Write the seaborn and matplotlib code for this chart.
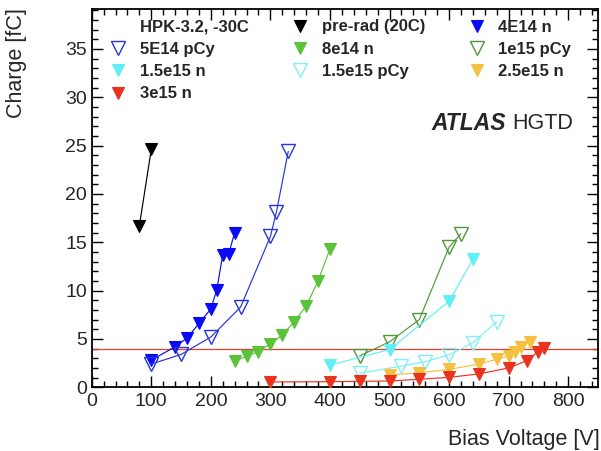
import matplotlib
matplotlib.use("Agg")
import matplotlib.pyplot as plt
import seaborn as sns
import pandas as pd
from matplotlib.lines import Line2D
from matplotlib.ticker import MultipleLocator

# ---------------- data ----------------
prerad_v = [80, 100]
prerad_q = [16.7, 24.6]

n4e14_v = [100, 140, 160, 180, 200, 210, 220, 230, 240]
n4e14_q = [2.8, 4.2, 5.1, 6.6, 8.1, 10.1, 13.7, 13.8, 16.0]

p5e14_v = [100, 150, 200, 250, 300, 310, 330]
p5e14_q = [2.4, 3.4, 5.2, 8.3, 15.6, 18.1, 24.4]

n8e14_v = [240, 260, 280, 300, 320, 340, 360, 380, 400]
n8e14_q = [2.7, 3.2, 3.7, 4.5, 5.4, 6.8, 8.4, 11.0, 14.3]

p1e15_v = [450, 500, 550, 600, 620]
p1e15_q = [3.25, 4.7, 7.0, 14.5, 15.9]

n15e15_v = [400, 500, 600, 640]
n15e15_q = [2.3, 3.9, 8.9, 13.25]

p15e15_v = [450, 520, 560, 600, 640, 680]
p15e15_q = [1.45, 2.2, 2.65, 3.35, 4.6, 6.8]

n25e15_v = [500, 550, 600, 650, 680, 700, 710, 720, 735]
n25e15_q = [1.27, 1.5, 1.85, 2.4, 2.9, 3.2, 3.7, 4.2, 4.7]

n3e15_v = [300, 400, 450, 500, 550, 600, 650, 700, 730, 750, 760]
n3e15_q = [0.55, 0.58, 0.62, 0.65, 0.83, 1.03, 1.38, 2.0, 2.75, 3.7, 4.1]

series_names = ["pre-rad (20C)", "4E14 n", "5E14 pCy", "8e14 n", "1e15 pCy",
                "1.5e15 n", "1.5e15 pCy", "2.5e15 n", "3e15 n"]
series_v = [prerad_v, n4e14_v, p5e14_v, n8e14_v, p1e15_v, n15e15_v, p15e15_v, n25e15_v, n3e15_v]
series_q = [prerad_q, n4e14_q, p5e14_q, n8e14_q, p1e15_q, n15e15_q, p15e15_q, n25e15_q, n3e15_q]

header_label = "HPK-3.2, -30C"
threshold = 4.0

# ---------------- styles ----------------
colors = {
    "pre-rad (20C)": "#000000",
    "4E14 n": "#0a0af5",
    "5E14 pCy": "#2536d8",
    "8e14 n": "#5cc23a",
    "1e15 pCy": "#4f983a",
    "1.5e15 n": "#62eef5",
    "1.5e15 pCy": "#7ef0f6",
    "2.5e15 n": "#f5c040",
    "3e15 n": "#e8331f",
}
filled = {
    "pre-rad (20C)": True, "4E14 n": True, "5E14 pCy": False, "8e14 n": True,
    "1e15 pCy": False, "1.5e15 n": True, "1.5e15 pCy": False, "2.5e15 n": True,
    "3e15 n": True,
}

rows = []
for name, vs, qs in zip(series_names, series_v, series_q):
    for v, q in zip(vs, qs):
        rows.append({"series": name, "V": v, "Q": q})
df = pd.DataFrame(rows)

sns.set_style("ticks")
plt.rcParams["font.family"] = ["Liberation Sans", "DejaVu Sans"]

fig = plt.figure(figsize=(6.01, 4.51), dpi=100)
ax = fig.add_axes([91.7 / 601, (451 - 387.3) / 451, (598 - 91.7) / 601, (387.3 - 9.3) / 451])

ms_f = 9.2
ms_o = 10.0
for name in series_names:
    sub = df[df["series"] == name]
    c = colors[name]
    if filled[name]:
        kw = dict(markerfacecolor=c, markeredgecolor=c, markersize=ms_f, markeredgewidth=0.8)
    else:
        kw = dict(markerfacecolor="none", markeredgecolor=c, markersize=ms_o, markeredgewidth=1.0)
    sns.lineplot(data=sub, x="V", y="Q", ax=ax, sort=False, estimator=None,
                 color=c, lw=0.85, marker="v", legend=False, zorder=3, **kw)

ax.axhline(threshold, color="#e8402f", lw=0.9, zorder=2)

ax.set_xlim(0, 850)
ax.set_ylim(0, 39.1)
ax.xaxis.set_major_locator(MultipleLocator(100))
ax.xaxis.set_minor_locator(MultipleLocator(20))
ax.yaxis.set_major_locator(MultipleLocator(5))
ax.yaxis.set_minor_locator(MultipleLocator(1))
ax.tick_params(which="both", direction="in", top=True, right=True, color="black", width=1.0)
ax.tick_params(which="major", length=8, labelsize=14)
ax.tick_params(which="minor", length=4.3)
ax.tick_params(axis="x", which="major", pad=4)
ax.tick_params(axis="y", which="major", pad=3.5)
for s in ax.spines.values():
    s.set_linewidth(1.3)
    s.set_color("black")
ax.set_xlabel("")
ax.set_ylabel("")

fig.text(600 / 601, 1 - 440 / 451, "Bias Voltage [V]", ha="right", va="center", fontsize=15.5)
fig.text(17 / 601, 1 - 8 / 451, "Charge [fC]", ha="center", va="top", rotation=90, fontsize=15.5)

ax.text(0.672, 0.6966, "ATLAS", transform=ax.transAxes, fontsize=16.5,
        fontweight="bold", fontstyle="italic", ha="left", va="center")
ax.text((512 - 91.7) / 506.3, 0.6966, "HGTD", transform=ax.transAxes, fontsize=15.5,
        ha="left", va="center")

# legend (column-major order to reproduce row-wise ROOT layout)
def handle(name):
    c = colors[name]
    if filled[name]:
        return Line2D([], [], ls="none", marker="v", markersize=ms_f, markerfacecolor=c,
                      markeredgecolor=c, markeredgewidth=0.8)
    return Line2D([], [], ls="none", marker="v", markersize=ms_o, markerfacecolor="none",
                  markeredgecolor=c, markeredgewidth=1.0)

hdr = Line2D([], [], ls="none", marker=None)
order = [None, "5E14 pCy", "1.5e15 n", "3e15 n",
         "pre-rad (20C)", "8e14 n", "1.5e15 pCy",
         "4E14 n", "1e15 pCy", "2.5e15 n"]
handles = [hdr if o is None else handle(o) for o in order]
labels = [header_label if o is None else o for o in order]
leg = fig.legend(handles, labels, ncol=3, loc="upper left",
                 bbox_to_anchor=(109.5 / 601, 1 - 19.5 / 451), bbox_transform=fig.transFigure,
                 frameon=False, borderpad=0, borderaxespad=0,
                 handlelength=1.0, handletextpad=0.8, columnspacing=2.6,
                 labelspacing=0.44, prop={"weight": "bold", "size": 12})

fig.savefig("out.png", dpi=100)
